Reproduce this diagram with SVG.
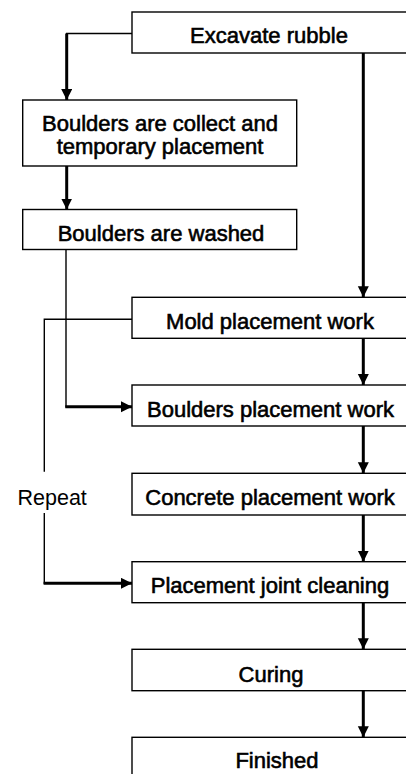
<svg xmlns="http://www.w3.org/2000/svg" width="406" height="774" viewBox="0 0 406 774">
<style>
.box{fill:#fff;stroke:#000;stroke-width:1.4}
.lbl{font-family:"Liberation Sans",Arial,sans-serif;font-size:22px;fill:#000;stroke:#000;stroke-width:0.6;text-anchor:middle}
.rep{font-family:"Liberation Sans",Arial,sans-serif;font-size:21.5px;fill:#000}
.thin{fill:none;stroke:#000;stroke-width:1.4}
.thick{fill:none;stroke:#000;stroke-width:3}
</style>
<defs>
<marker id="ah" markerUnits="userSpaceOnUse" markerWidth="12" markerHeight="12" refX="11" refY="5.5" orient="auto" viewBox="0 0 12 12">
<path d="M0,0 L11,5.5 L0,11 z" fill="#000"/>
</marker>
</defs>
<rect width="406" height="774" fill="#fff"/>
<g id="connectors">
<polyline class="thin" points="132,33.5 66.7,33.5 66.7,40"/>
<line class="thick" x1="66.7" y1="33.5" x2="66.7" y2="100" marker-end="url(#ah)"/>
<line class="thick" x1="66.7" y1="166" x2="66.7" y2="209.5" marker-end="url(#ah)"/>
<polyline class="thin" points="66,249.5 66,406.7 70,406.7"/>
<line class="thick" x1="65.3" y1="406.7" x2="132" y2="406.7" marker-end="url(#ah)"/>
<line class="thick" x1="363.3" y1="53" x2="363.3" y2="297.3" marker-end="url(#ah)"/>
<polyline class="thin" points="132,319.3 44.3,319.3 44.3,471.7"/>
<polyline class="thin" points="44.3,513 44.3,583.3 50,583.3"/>
<line class="thick" x1="43.6" y1="583.3" x2="132" y2="583.3" marker-end="url(#ah)"/>
<line class="thick" x1="363.3" y1="338.3" x2="363.3" y2="385" marker-end="url(#ah)"/>
<line class="thick" x1="363.3" y1="426" x2="363.3" y2="473.3" marker-end="url(#ah)"/>
<line class="thick" x1="363.3" y1="515" x2="363.3" y2="561.7" marker-end="url(#ah)"/>
<line class="thick" x1="363.3" y1="602.7" x2="363.3" y2="649.3" marker-end="url(#ah)"/>
<line class="thick" x1="363.3" y1="690.7" x2="363.3" y2="737.3" marker-end="url(#ah)"/>
</g>
<g id="excavate"><rect class="box" x="132" y="12" width="276" height="41"/><text class="lbl" x="269" y="42.5">Excavate rubble</text></g>
<g id="collect"><rect class="box" x="22.7" y="100" width="274" height="66"/><text class="lbl" x="160" y="131">Boulders are collect and</text><text class="lbl" x="160" y="153.5">temporary placement</text></g>
<g id="washed"><rect class="box" x="22.7" y="209.5" width="274" height="40"/><text class="lbl" x="161" y="240.5">Boulders are washed</text></g>
<g id="mold"><rect class="box" x="132" y="297.3" width="276" height="41"/><text class="lbl" x="270" y="328.7">Mold placement work</text></g>
<g id="boulders-placement"><rect class="box" x="132" y="385" width="276" height="41"/><text class="lbl" x="270.5" y="417">Boulders placement work</text></g>
<g id="concrete"><rect class="box" x="132" y="473.3" width="276" height="41.7"/><text class="lbl" x="270" y="505">Concrete placement work</text></g>
<g id="joint"><rect class="box" x="132" y="561.7" width="276" height="41"/><text class="lbl" x="270" y="592.7">Placement joint cleaning</text></g>
<g id="curing"><rect class="box" x="132" y="649.3" width="276" height="41.4"/><text class="lbl" x="271" y="681.5">Curing</text></g>
<g id="finished"><rect class="box" x="132" y="737.3" width="276" height="45"/><text class="lbl" x="277" y="768.3">Finished</text></g>
<text id="repeat" class="rep" x="17.5" y="505">Repeat</text>
</svg>
